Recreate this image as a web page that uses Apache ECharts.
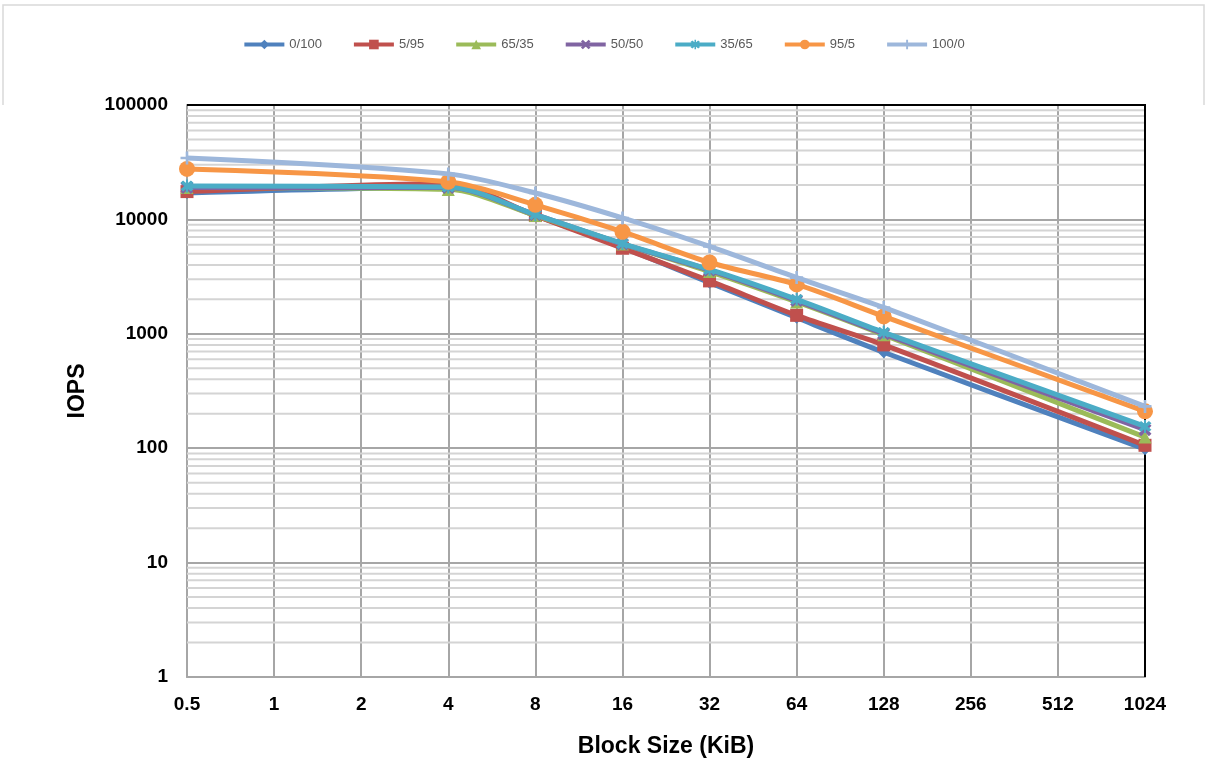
<!DOCTYPE html>
<html>
<head>
<meta charset="utf-8">
<script src="https://cdn.jsdelivr.net/npm/echarts@6/dist/echarts.min.js"></script>
<style>html,body{margin:0;padding:0;background:#fff}#c{width:1207px;height:763px}</style>
</head>
<body>
<div id="c"></div>
<script>
// Axis tick labels (block size in KiB, one category per power of two)
const xTicks = ['0.5','1','2','4','8','16','32','64','128','256','512','1024'];
const yTicks = ['1','10','100','1000','10000','100000'];
// Block sizes (KiB) where measurements exist
const blockSizes = ['0.5','4','8','16','32','64','128','1024'];
// Series names (read/write mix)
const seriesNames = ['0/100','5/95','65/35','50/50','35/65','95/5','100/0'];
// IOPS values per series, at blockSizes
const s0_100  = [17000, 19000, 10800, 5700, 2800, 1380, 690, 98];
const s5_95   = [17500, 20500, 10800, 5600, 2900, 1450, 800, 106];
const s65_35  = [19000, 18300, 10800, 6100, 3500, 1900, 980, 125];
const s50_50  = [19000, 19000, 11000, 6100, 3600, 1950, 1000, 145];
const s35_65  = [19600, 19200, 11000, 6150, 3650, 2000, 1030, 155];
const s95_5   = [27600, 21300, 13400, 7800, 4200, 2700, 1420, 210];
const s100_0  = [34400, 25000, 17000, 10300, 5800, 3100, 1700, 232];
// Minor log gridline values (2..9 of each decade)
const minorGrid = [];
for (let d = 1; d < 100000; d *= 10) for (let k = 2; k <= 9; k++) minorGrid.push(d * k);

const values = [s0_100, s5_95, s65_35, s50_50, s35_65, s95_5, s100_0];
const colors = ['#4F81BD','#C0504D','#9BBB59','#8064A2','#4BACC6','#F79646','#9DB7DB'];
const xPath = 'path://M2,0 L5,3 L8,0 L10,2 L7,5 L10,8 L8,10 L5,7 L2,10 L0,8 L3,5 L0,2 Z';
const plusPath = 'path://M4,0 H6 V4 H10 V6 H6 V10 H4 V6 H0 V4 H4 Z';
const starPath = 'path://M2,0 L5,3 L8,0 L10,2 L7,5 L10,8 L8,10 L5,7 L2,10 L0,8 L3,5 L0,2 Z M4.2,-1 H5.8 V11 H4.2 Z';
const symbols = ['diamond','rect','triangle',xPath,starPath,'circle',plusPath];
const symSizes = [12,13,13,13,13,16,13];

const series = seriesNames.map((n, i) => ({
  name: n, type: 'line', smooth: 0.3, connectNulls: true,
  data: xTicks.map(t => { const j = blockSizes.indexOf(t); return j < 0 ? null : values[i][j]; }),
  symbol: symbols[i], symbolSize: symSizes[i],
  showAllSymbol: true,
  lineStyle: { width: 5, color: colors[i] },
  itemStyle: { color: colors[i] },
  z: 3 + i
}));
series.unshift({
  name: 'minorGrid', type: 'custom', silent: true, z: 1,
  data: minorGrid,
  encode: { y: 0 },
  renderItem: (params, api) => {
    const v = api.value(0);
    const p1 = api.coord([0, v]);
    const p2 = api.coord([xTicks.length - 1, v]);
    return { type: 'line', shape: { x1: p1[0], y1: p1[1], x2: p2[0], y2: p2[1] },
      style: { stroke: '#d4d4d4', lineWidth: 2 } };
  }
});

const chart = echarts.init(document.getElementById('c'), null, { renderer: 'canvas' });
chart.setOption({
  animation: false,
  backgroundColor: '#fff',
  color: colors,
  legend: {
    data: seriesNames, top: 33, left: 'center',
    itemWidth: 40, itemHeight: 12, itemGap: 30,
    lineStyle: { width: 4 },
    textStyle: { fontFamily: 'Liberation Sans, Arial', fontSize: 13, color: '#595959' }
  },
  grid: { left: 187, right: 62, top: 105, bottom: 86 },
  xAxis: {
    type: 'category', data: xTicks, boundaryGap: false,
    name: 'Block Size (KiB)', nameLocation: 'middle', nameGap: 58,
    nameTextStyle: { fontFamily: 'Liberation Sans, Arial', fontWeight: 'bold', fontSize: 23, color: '#000' },
    axisLine: { lineStyle: { color: '#a6a6a6', width: 2 } },
    axisTick: { show: false },
    axisLabel: { margin: 18, interval: 0, fontFamily: 'Liberation Sans, Arial', fontWeight: 'bold', fontSize: 19, color: '#000' },
    splitLine: { show: true, interval: 0, lineStyle: { color: '#a6a6a6', width: 2 } }
  },
  yAxis: {
    type: 'log', logBase: 10, min: 1, max: 100000, splitNumber: 5,
    name: 'IOPS', nameLocation: 'middle', nameGap: 98,
    nameTextStyle: { fontFamily: 'Liberation Sans, Arial', fontWeight: 'bold', fontSize: 23, color: '#000' },
    axisLine: { show: true, lineStyle: { color: '#a6a6a6', width: 2 } },
    axisTick: { show: false },
    axisLabel: { margin: 19, fontFamily: 'Liberation Sans, Arial', fontWeight: 'bold', fontSize: 19, color: '#000',
      formatter: v => { const s = String(Math.round(v)); return yTicks.includes(s) ? s : ''; } },
    splitLine: { show: true, lineStyle: { color: '#a6a6a6', width: 2 } }
  },
  graphic: [{
    type: 'polyline', silent: true, z: 0,
    shape: { points: [[3,105],[3,5],[1204,5],[1204,105]] },
    style: { stroke: '#d9d9d9', lineWidth: 1.5, fill: null }
  }, {
    type: 'polyline', silent: true, z: 2,
    shape: { points: [[187,105],[1145,105],[1145,677]] },
    style: { stroke: '#000', lineWidth: 2, fill: null }
  }],
  series: series
});
</script>
</body>
</html>
